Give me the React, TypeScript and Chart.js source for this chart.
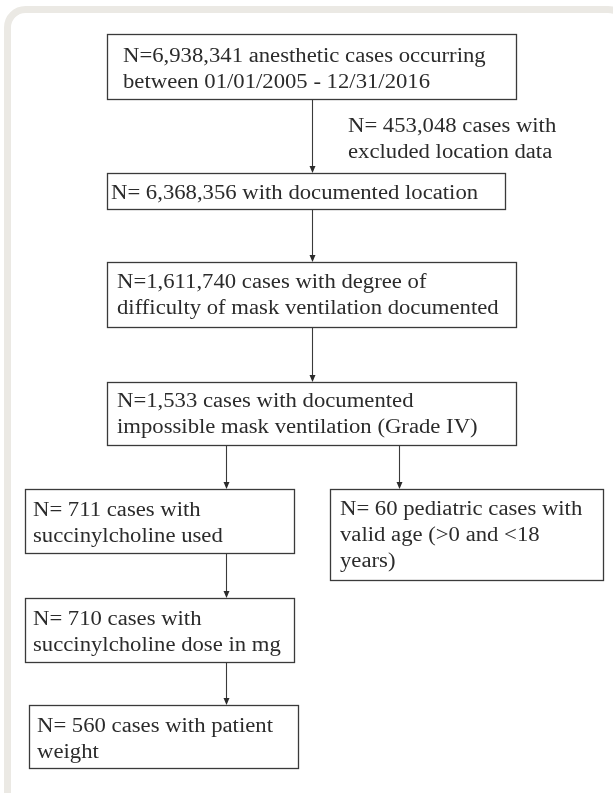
import React, { useEffect, useRef } from "react";
import { Chart, registerables } from "chart.js";

Chart.register(...registerables);

// Flow chart content
const BOX_LINES: string[][] = [
  ["N=6,938,341 anesthetic cases occurring", "between 01/01/2005 - 12/31/2016"],
  ["N= 6,368,356 with documented location"],
  ["N=1,611,740 cases with degree of", "difficulty of mask ventilation documented"],
  ["N=1,533 cases with documented", "impossible mask ventilation (Grade IV)"],
  ["N= 711 cases with", "succinylcholine used"],
  ["N= 60 pediatric cases with", "valid age (>0 and <18", "years)"],
  ["N= 710 cases with", "succinylcholine dose in mg"],
  ["N= 560 cases with patient", "weight"],
];
const EXCLUSION_LINES: string[] = ["N= 453,048 cases with", "excluded location data"];
// edges: [from, to]
const EDGES: number[][] = [
  [0, 1],
  [1, 2],
  [2, 3],
  [3, 4],
  [3, 5],
  [4, 6],
  [6, 7],
];

// layout (in scale units = page pixels)
const BOX_RECT: number[][] = [
  [107, 34, 516, 99],
  [107, 173, 505, 209],
  [107, 262, 516, 327],
  [107, 382, 516, 445],
  [25, 489, 294, 553],
  [330, 489, 603, 580],
  [25, 598, 294, 662],
  [29, 705, 298, 768],
];
const TEXT_X: number[] = [123, 111, 117, 117, 33, 340, 33, 37];
const TEXT_BASE: number[] = [62, 199, 288, 407, 516, 515, 625, 732];
const EDGE_X: number[] = [312, 312, 312, 226, 399, 226, 226];
const EXCL_POS: number[] = [348, 132];
const LINE_H = 26;
const TEXT_STRETCH = 1.135;

const FONT = '20px "Liberation Serif", "Times New Roman", serif';
const INK = "#2b2b2b";
const FRAME = "#ebe9e4";

const flowPlugin = {
  id: "flow",
  afterDraw(chart: any) {
    const ctx = chart.ctx as CanvasRenderingContext2D;
    const xs = chart.scales.x;
    const ys = chart.scales.y;
    const px = (v: number) => xs.getPixelForValue(v);
    const py = (v: number) => ys.getPixelForValue(v);
    const text = (s: string, x: number, y: number) => {
      ctx.save();
      ctx.translate(x, y);
      ctx.scale(TEXT_STRETCH, 1);
      ctx.fillText(s, 0, 0);
      ctx.restore();
    };
    ctx.save();

    // frame
    ctx.strokeStyle = FRAME;
    ctx.lineWidth = 7;
    ctx.beginPath();
    const fx = px(7.5), fy = py(9.5), fr = 18;
    const fx2 = px(626), fy2 = py(900);
    ctx.moveTo(fx, fy2);
    ctx.lineTo(fx, fy + fr);
    ctx.arcTo(fx, fy, fx + fr, fy, fr);
    ctx.lineTo(fx2 - fr, fy);
    ctx.arcTo(fx2, fy, fx2, fy + fr, fr);
    ctx.lineTo(fx2, fy2);
    ctx.stroke();

    // boxes
    ctx.strokeStyle = "#3a3a3a";
    ctx.lineWidth = 1.3;
    ctx.fillStyle = INK;
    ctx.font = FONT;
    ctx.textBaseline = "alphabetic";
    ctx.textAlign = "left";
    BOX_RECT.forEach((r, i) => {
      const x0 = Math.round(px(r[0])) + 0.5;
      const y0 = Math.round(py(r[1])) + 0.5;
      const x1 = Math.round(px(r[2])) + 0.5;
      const y1 = Math.round(py(r[3])) + 0.5;
      ctx.strokeRect(x0, y0, x1 - x0, y1 - y0);
      BOX_LINES[i].forEach((line, j) => {
        text(line, px(TEXT_X[i]), py(TEXT_BASE[i] + j * LINE_H));
      });
    });

    // exclusion note
    EXCLUSION_LINES.forEach((line, j) => {
      text(line, px(EXCL_POS[0]), py(EXCL_POS[1] + j * LINE_H));
    });

    // arrows
    ctx.lineWidth = 1.1;
    EDGES.forEach((e, k) => {
      const x = Math.round(px(EDGE_X[k])) + 0.5;
      const yA = py(BOX_RECT[e[0]][3]);
      const yB = py(BOX_RECT[e[1]][1]);
      ctx.beginPath();
      ctx.moveTo(x, yA);
      ctx.lineTo(x, yB - 5);
      ctx.stroke();
      ctx.beginPath();
      ctx.moveTo(x - 3, yB - 7);
      ctx.lineTo(x + 3, yB - 7);
      ctx.lineTo(x, yB);
      ctx.closePath();
      ctx.fill();
    });
    ctx.restore();
  },
};

export default function App() {
  const ref = useRef<HTMLCanvasElement | null>(null);
  useEffect(() => {
    if (!ref.current) return;
    const chart = new Chart(ref.current, {
      type: "scatter",
      data: {
        datasets: [
          {
            data: BOX_RECT.map((r) => ({ x: (r[0] + r[2]) / 2, y: (r[1] + r[3]) / 2 })),
            pointRadius: 0,
            showLine: false,
          },
        ],
      },
      options: {
        responsive: false,
        animation: false,
        layout: { padding: 0 },
        plugins: { legend: { display: false }, tooltip: { enabled: false } },
        scales: {
          x: { type: "linear", min: 0, max: 613, display: false },
          y: { type: "linear", min: 0, max: 793, reverse: true, display: false },
        },
      },
      plugins: [flowPlugin],
    });
    return () => chart.destroy();
  }, []);
  return (
    <div style={{ position: "absolute", left: 0, top: 0, width: 613, height: 793, background: "#fff" }}>
      <canvas ref={ref} width={613} height={793} style={{ display: "block" }} />
    </div>
  );
}
